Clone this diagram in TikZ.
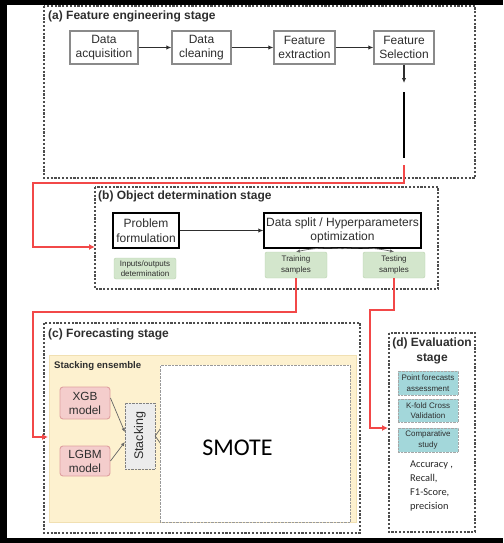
\documentclass[tikz,border=0pt]{standalone}
\usepackage{fontspec}
\setmainfont{Liberation Sans}
\newfontfamily\calibrifont{Carlito}
\usepackage{graphicx}
\usepackage{tikz}
\usetikzlibrary{positioning,arrows.meta,calc}

\definecolor{redline}{HTML}{F24848}
\definecolor{panelgray}{HTML}{4D4D4D}
\definecolor{boxgray}{HTML}{8A8A8A}
\definecolor{txtgray}{HTML}{2E2E2E}
\definecolor{greenfill}{HTML}{D3E6CC}
\definecolor{greendraw}{HTML}{B9D2AE}
\definecolor{cyanfill}{HTML}{A3D7DA}
\definecolor{pinkfill}{HTML}{F4CDCC}
\definecolor{pinkdraw}{HTML}{DFA0A0}
\definecolor{ensfill}{HTML}{FDF1CF}
\definecolor{ensdraw}{HTML}{F1E0B2}

\tikzset{
  panel/.style={draw=panelgray, line width=1.1pt, dash pattern=on 2.2pt off 1.6pt},
  paneltitle/.style={font=\bfseries\fontsize{12}{15}\selectfont, text=txtgray, inner sep=0pt},
  stepA/.style={draw=boxgray, line width=1.4pt, fill=white, align=center, text=txtgray,
    font=\fontsize{12}{14.5}\selectfont, inner sep=0pt, minimum height=33pt},
  stepB/.style={draw=black, line width=1.4pt, fill=white, align=center, text=txtgray,
    font=\fontsize{12}{14.5}\selectfont, inner sep=0pt, minimum height=35pt},
  tagbox/.style={draw=greendraw, fill=greenfill, rounded corners=2pt, align=center, text=txtgray,
    font=\fontsize{8}{10.5}\selectfont, inner sep=0pt},
  evalbox/.style={draw=gray!70, densely dotted, fill=cyanfill, align=center, text=txtgray,
    font=\fontsize{8}{10.5}\selectfont, inner sep=0pt, minimum width=60pt},
  modelbox/.style={draw=pinkdraw, line width=0.9pt, fill=pinkfill, rounded corners=3pt, align=center,
    text=txtgray, font=\fontsize{11.8}{14}\selectfont, inner sep=0pt, minimum width=50pt},
  stackbox/.style={draw=gray, densely dotted, fill=gray!15, text=txtgray,
    font=\fontsize{12.5}{14}\selectfont, inner sep=0pt},
  flow/.style={draw=txtgray, line width=1.2pt, -{Latex[length=5pt,width=4.5pt]}},
  thinflow/.style={draw=gray!80!black, line width=0.7pt, -{Latex[length=4pt,width=3.5pt]}},
  redflow/.style={draw=redline, line width=1.5pt, -{Latex[length=6pt,width=6pt]}}
}

\begin{document}
\begin{tikzpicture}[x=1pt, y=-1pt]
\useasboundingbox (0,0) rectangle (503,543);
% ---- outer frame ----
\fill[black] (0,0) rectangle (503,5);
\fill[black] (0,0) rectangle (7,543);
\fill[black] (0,538) rectangle (503,543);

% ---- (a) feature engineering stage ----
\draw[panel] (44,6) rectangle (475,178);
\node[paneltitle, anchor=west] (titleA) at (48,16) {(a) Feature engineering stage};
\node[stepA, minimum width=68pt] (acq) at (104,47.5) {Data\\acquisition};
\node[stepA, minimum width=59pt] (clean) at (201.5,47.5) {Data\\cleaning};
\node[stepA, minimum width=61pt] (extr) at (304.5,47.5) {Feature\\extraction};
\node[stepA, minimum width=60pt] (sel) at (404,47.5) {Feature\\Selection};
\draw[flow] (acq) -- (clean);
\draw[flow] (clean) -- (extr);
\draw[flow] (extr) -- (sel);
\coordinate (selTip) at (404,83);
\coordinate (linkTop) at (404,92);
\coordinate (linkBot) at (404,158);
\draw[flow] (sel) -- (selTip);
\draw[black, line width=1.1pt] (linkTop) -- (linkBot);

% ---- (b) object determination stage ----
\draw[panel] (95,187) rectangle (438,289);
\node[paneltitle, anchor=west] (titleB) at (98,196) {(b) Object determination stage};
\node[stepB, minimum width=66pt] (prob) at (146,230.5) {Problem\\formulation};
\node[stepB, minimum width=157pt] (split) at (342.5,230.5) {Data split / Hyperparameters\\optimization};
\node[tagbox, minimum width=62pt, minimum height=21pt] (io) at (145,268.5) {Inputs/outputs\\determination};
\node[tagbox, minimum width=62pt, minimum height=26pt] (train) at (296,265) {Training\\samples};
\node[tagbox, minimum width=62pt, minimum height=26pt] (test) at (394,265) {Testing\\samples};
\draw[flow, line width=1pt] (prob) -- (split);
\draw[thinflow] (split.south) to[bend right=8] (train.north);
\draw[thinflow] (split.south) to[bend left=8] (test.north);

% ---- (c) forecasting stage ----
\draw[panel] (44,323) rectangle (360,533);
\node[paneltitle, anchor=west] (titleC) at (48,334) {(c) Forecasting stage};
\fill[ensfill, draw=ensdraw, line width=0.8pt] (49,355) rectangle (356,522);
\node[anchor=west, inner sep=0pt, text=txtgray, font=\bfseries\fontsize{9.6}{11}\selectfont] (ensLabel) at (54,366) {Stacking ensemble};
\node[modelbox, minimum height=32pt] (xgb) at (85,403) {XGB\\model};
\node[modelbox, minimum height=30pt] (lgbm) at (85,461) {LGBM\\model};
\node[stackbox, minimum width=30pt, minimum height=66pt] (stack) at (140,436) {\rotatebox{90}{Stacking}};
\draw[thinflow] ([yshift=5pt]xgb.east) -- ([yshift=4pt]stack.west);
\draw[thinflow] (lgbm.east) -- ([yshift=-6pt]stack.west);
\coordinate (outUp) at (163,425);
\coordinate (outDn) at (163,447);
\draw[gray!80!black, line width=0.7pt] (stack.east) -- (outUp);
\draw[gray!80!black, line width=0.7pt] (stack.east) -- (outDn);
\node[draw=gray!80, densely dotted, fill=white, minimum width=190pt, minimum height=157pt,
  inner sep=0pt, anchor=north west] (smote) at (160,365) {};
\node[font=\calibrifont\fontsize{24}{28}\selectfont, text=black, inner sep=0pt] (smoteLabel) at (237.5,448) {SMOTE};

% ---- (d) evaluation stage ----
\draw[panel] (389,333) rectangle (475,532);
\node[paneltitle, align=center] (titleD) at (432,351) {(d) Evaluation\\stage};
\node[evalbox, minimum height=24pt] (pfa) at (428,383) {Point forecasts\\assessment};
\node[evalbox, minimum height=23pt] (kfold) at (428,410.5) {K-fold Cross\\Validation};
\node[evalbox, minimum height=24pt] (comp) at (428,440) {Comparative\\study};
\node[anchor=north west, align=left, inner sep=0pt, text=black!85,
  font=\calibrifont\fontsize{10.4}{14}\selectfont] (metrics) at (410,461)
  {Accuracy ,\\Recall,\\F1-Score,\\precision};

% ---- red links between stages ----
\coordinate (redA) at (404,165);
\coordinate (bIn) at (95,247);
\coordinate (cIn) at (48,437);
\coordinate (dIn) at (388,428);
\draw[redflow] (redA) |- (33,183) |- (bIn);
\draw[redflow] (train.south) |- (33,312) |- (cIn);
\draw[redflow] (test.south) |- (370,310) |- (dIn);
\end{tikzpicture}
\end{document}
